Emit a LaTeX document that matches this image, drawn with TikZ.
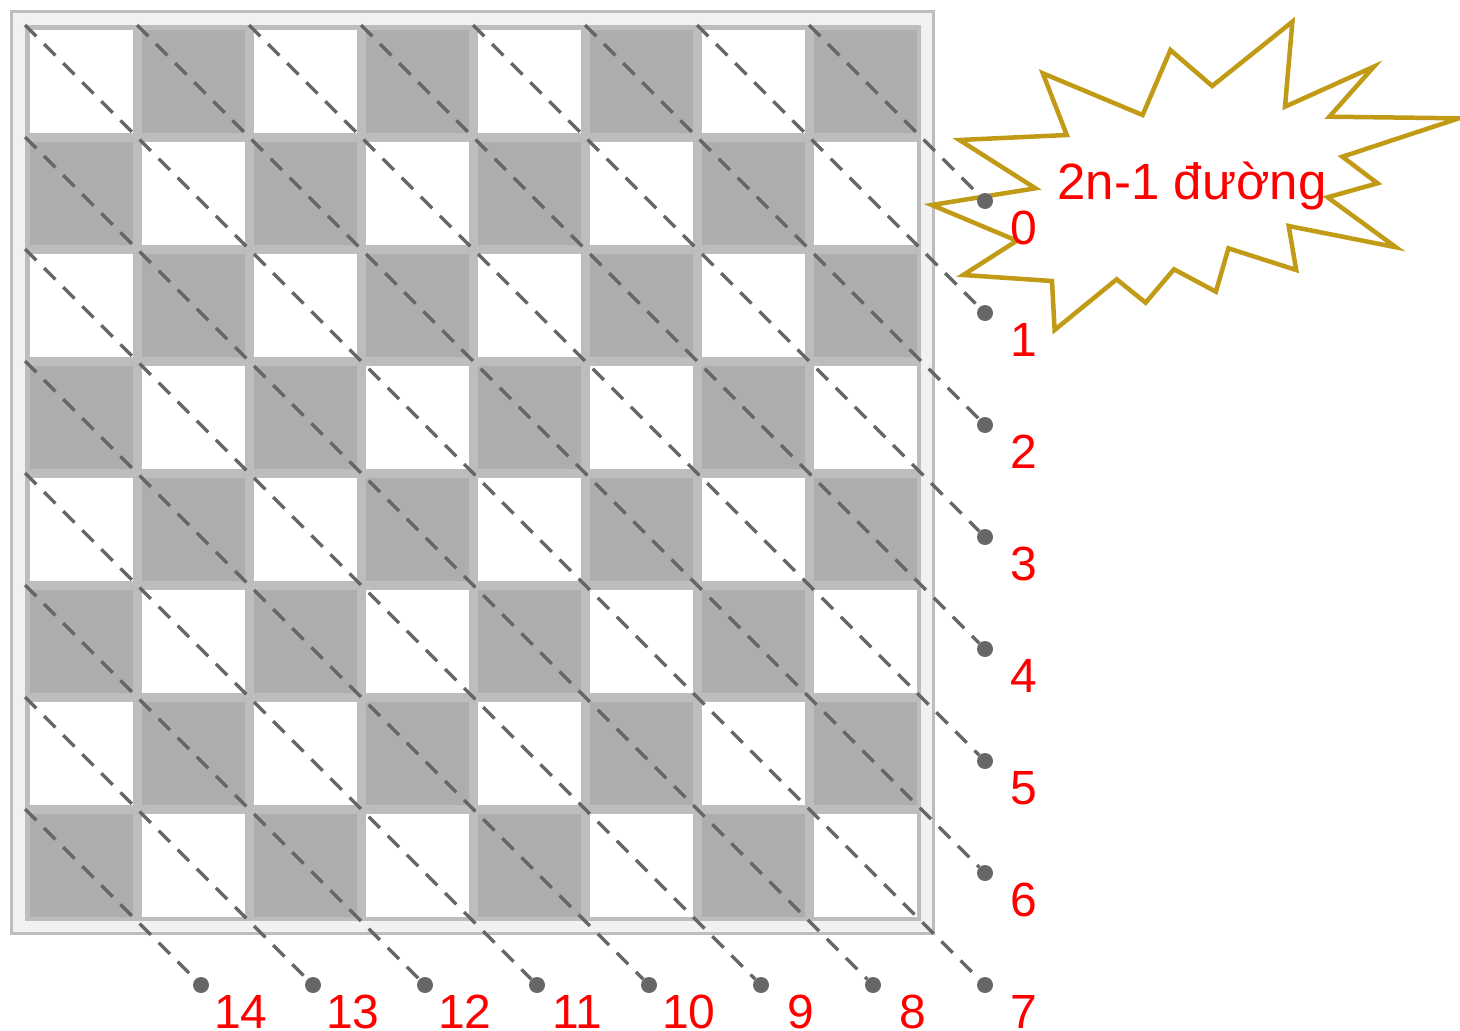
\documentclass[tikz,border=0pt]{standalone}
\usepackage{fontspec}
\setmainfont{Liberation Sans}
\definecolor{cellborder}{HTML}{BDBDBD}
\definecolor{darkcell}{HTML}{ADADAD}
\definecolor{lineg}{HTML}{666666}
\definecolor{framefill}{HTML}{F1F1F1}
\definecolor{stargold}{RGB}{193,154,22}
\begin{document}
\begin{tikzpicture}[x=1pt,y=-1pt,
  cellbox/.style={draw=cellborder,line width=4.5pt},
  diag/.style={draw=lineg,line width=3.2pt,dash pattern=on 16pt off 11pt},
  dotnode/.style={circle,fill=lineg,inner sep=0pt,minimum size=16pt},
  lab/.style={text=red,font=\fontsize{48}{56}\selectfont,inner sep=0pt}]
\useasboundingbox (0,0) rectangle (1460,1031);
% frame
\draw[draw=cellborder,fill=framefill,line width=3pt] (11.5,11.5) rectangle (933.5,933.5);
% board
\foreach \r in {0,...,7} {
  \foreach \c in {0,...,7} {
    \pgfmathtruncatemacro\p{mod(\r+\c,2)}
    \ifnum\p=1 \def\fc{darkcell}\else\def\fc{white}\fi
    \path[cellbox,fill=\fc] (27.25+112*\c, 27.25+112*\r) rectangle ++(107.5,107.5);
  }
}
% star
\draw[stargold,line width=4.5pt,fill=white,line join=miter]
  (931.8,205) -- (1035.4,188.3) -- (959.5,140) -- (1066.8,135) -- (1042.8,73.3)
  -- (1142.6,115) -- (1170.4,50) -- (1212.2,86) -- (1292.4,21.7) -- (1285,106.7)
  -- (1373.8,66.7) -- (1329.4,116.7) -- (1458.9,118.3) -- (1342.4,156.7) -- (1377.5,183.3)
  -- (1327.6,197.3) -- (1396,247.3) -- (1288.7,226) -- (1296.2,270) -- (1228.4,248.3)
  -- (1215.9,291.7) -- (1174,269.3) -- (1145.6,302.7) -- (1116.7,279.3) -- (1054.6,330)
  -- (1052,281) -- (963.2,275) -- (1016.9,240.7) -- cycle;
% right diagonals 0..7
\foreach \i in {0,...,7} {
  \pgfmathtruncatemacro\k{7-\i}
  \coordinate (sr\i) at (25+112*\k, 25);
  \node[dotnode] (r\i) at (985, 201+112*\i) {};
  \draw[diag] (sr\i) -- (r\i);
  \node[lab] (lr\i) at ([shift={(39,27)}]r\i.center) {\i};
}
% bottom diagonals 8..14
\foreach \j in {1,...,7} {
  \pgfmathtruncatemacro\n{7+\j}
  \coordinate (sb\j) at (25, 25+112*\j);
  \node[dotnode] (b\j) at (985-112*\j, 985) {};
  \draw[diag] (sb\j) -- (b\j);
  \node[lab] (lb\j) at ([shift={(40,27)}]b\j.center) {\n};
}
% star text
\node[lab,anchor=base,font=\fontsize{51}{60}\selectfont] (title) at (1192,199) {2n-1 đường};
\end{tikzpicture}
\end{document}
